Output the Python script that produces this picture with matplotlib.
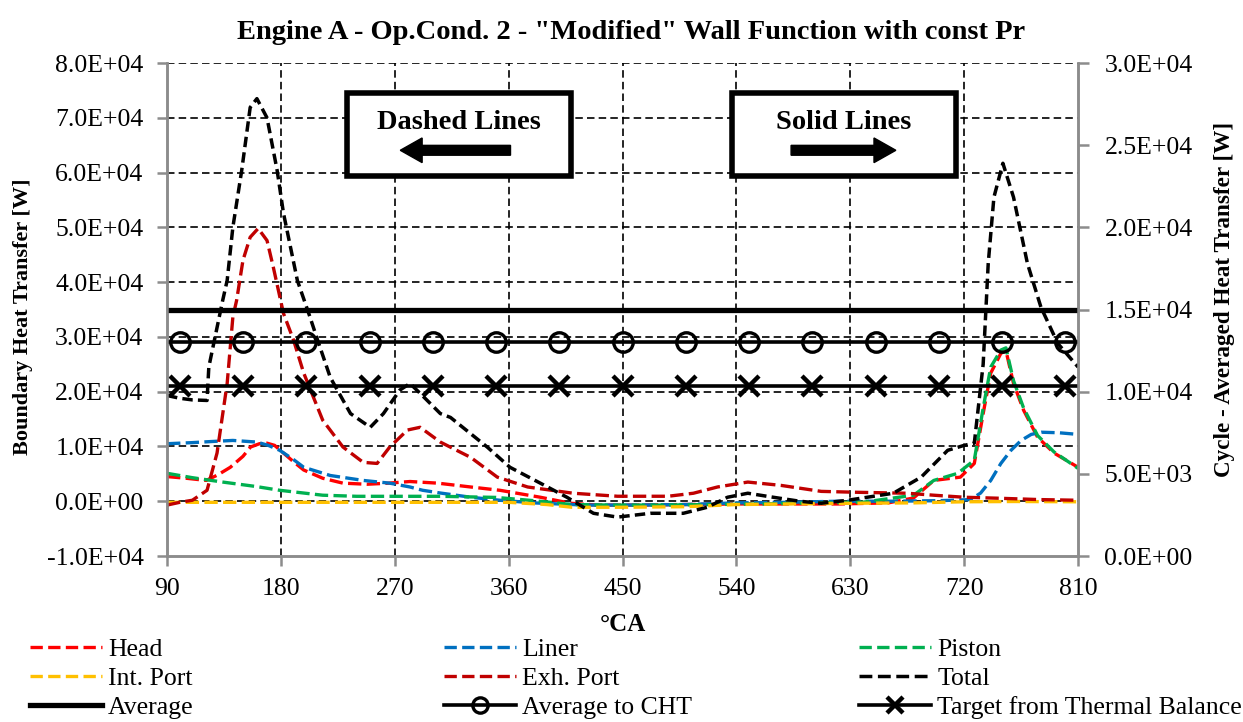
import numpy as np
import matplotlib
matplotlib.use("Agg")
import matplotlib.pyplot as plt
from matplotlib.lines import Line2D
from matplotlib.patches import Rectangle, FancyArrow

plt.rcParams['font.family'] = ['Liberation Serif', 'DejaVu Serif']

# crank angle [deg] / boundary heat transfer [W] (left axis)
head_x = [90, 105, 121, 130, 140, 150, 156, 163, 169, 175, 182, 190, 198, 213, 229, 248, 265, 282,
          304, 330, 353, 385, 409, 430, 460, 500, 540, 580, 620, 660, 680, 696, 717, 728, 735, 741,
          749, 753, 759, 767, 778, 791, 810]
head_y = [4500, 4200, 3800, 4800, 6200, 8200, 9900, 10500, 10600, 10200, 8800, 7200, 5700, 4200,
          3300, 3100, 3300, 3600, 3300, 2600, 2000, 730, -370, -700, -700, -600, -500, -500, -500,
          -300, 600, 3800, 4400, 6900, 16000, 23400, 27000, 27500, 21500, 16600, 11700, 8800, 6200]

liner_x = [90, 110, 125, 142, 161, 170, 179, 190, 198, 219, 245, 266, 282, 292, 306, 330, 353,
           380, 420, 460, 500, 540, 580, 620, 660, 700, 725, 733, 741, 749, 757, 765, 773, 781,
           795, 810]
liner_y = [10500, 10700, 10900, 11100, 10800, 10200, 9300, 7600, 6200, 4700, 3800, 3300, 2600,
           2000, 1500, 730, 180, -300, -700, -700, -600, -300, -200, 0, 0, 100, 300, 1500, 3800,
           6900, 9300, 11100, 12200, 12600, 12500, 12200]

piston_x = [90, 110, 134, 160, 179, 213, 240, 266, 306, 350, 380, 410, 440, 480, 520, 560, 600,
            640, 680, 696, 715, 728, 735, 741, 749, 753, 759, 767, 778, 791, 810]
piston_y = [5100, 4300, 3500, 2700, 2000, 1100, 900, 900, 900, 700, 100, -600, -700, -700, -600,
            -500, -300, -180, 1100, 3800, 5100, 7500, 17000, 24500, 27600, 28000, 22000, 17000,
            12000, 9000, 6000]

intport_x = [90, 130, 180, 240, 300, 360, 390, 410, 450, 500, 540, 580, 630, 680, 720, 760, 810]
intport_y = [-200, -200, -200, -200, -200, -200, -600, -1100, -1100, -1000, -600, -500, -370,
             -300, -100, -50, -100]

exh_x = [90, 100, 110, 121.6, 129.5, 137.5, 142, 145, 150, 155.7, 162, 169, 174, 182, 190, 198,
         213, 229, 245, 256, 266, 280, 290, 306, 330, 351, 375, 411, 446, 486, 506, 525, 549, 575,
         607, 634, 675, 696, 720, 747, 780, 810]
exh_y = [-700, -200, 180, 2000, 8800, 21500, 33600, 36700, 44000, 48200, 49800, 47600, 42700, 34300,
         29400, 23400, 14800, 9900, 7100, 6900, 9900, 13000, 13500, 10800, 8000, 4400, 2600, 1460,
         910, 910, 1460, 2600, 3500, 2900, 1800, 1640, 1460, 1100, 730, 550, 300, 180]

total_x = [90, 100, 110, 121.6, 123, 134, 137.5, 142, 149, 155.7, 161, 169, 177, 182, 193, 203,
           209, 219, 235, 250.6, 261, 274, 282, 290, 306, 314, 343, 361, 385, 406, 427, 446, 472,
           498, 517, 533, 549, 569, 590, 607, 628, 664, 686, 707, 720, 728, 735, 739, 743.5, 750.6,
           759, 770, 780.7, 794, 810]
total_y = [19300, 18800, 18500, 18400, 24500, 36700, 40300, 50000, 60400, 71900, 73500, 70000,
           60400, 52600, 40300, 33600, 29400, 22600, 16000, 13500, 16000, 20300, 21500, 19700,
           16000, 15300, 9900, 6200, 3300, 730, -2200, -2900, -2200, -2200, -1100, 730, 1460,
           730, 0, -370, 180, 1460, 4400, 9300, 10200, 10600, 25000, 43400, 55500, 61700, 55500,
           43400, 35400, 28800, 24500]

# cycle-averaged heat transfer [W] (right axis)
avg_x = [90, 810]
avg_y = [15000, 15000]
cht_x = [90, 100, 150, 200, 250, 300, 350, 400, 450, 500, 550, 600, 650, 700, 750, 800, 810]
cht_y = [13000] * len(cht_x)
target_x = cht_x
target_y = [10350] * len(target_x)

red = '#FF0000'
blue = '#0070C0'
green = '#00B050'
yellow = '#FFC000'
darkred = '#C00000'

fig = plt.figure(figsize=(12.43, 7.22), dpi=100)
ax = fig.add_axes([0.1344, 0.2299, 0.7329, 0.6828])
ax2 = ax.twinx()

ax.set_xlim(90, 810)
ax.set_ylim(-10000, 80000)
ax2.set_ylim(0, 30000)
ax.set_xticks(np.arange(90, 811, 90))
ax.set_yticks(np.arange(-10000, 80001, 10000))
ax2.set_yticks(np.arange(0, 30001, 5000))
ax.yaxis.set_major_formatter(lambda v, p: '{:.1E}'.format(v))
ax2.yaxis.set_major_formatter(lambda v, p: '{:.1E}'.format(v))

# grid
grid_ls = (0, (4.5, 2.5))
for gx in np.arange(180, 721, 90):
    ax.axvline(gx, color='black', lw=1.2, ls=grid_ls, zorder=1)
for gy in np.arange(0, 80001, 10000):
    ax.axhline(gy, color='black', lw=1.2, ls=grid_ls, zorder=1)

dash = (0, (4, 1.6))
lw = 2.4
ax.plot(head_x, head_y, color=red, lw=lw, ls=dash, label='Head', zorder=3)
ax.plot(liner_x, liner_y, color=blue, lw=lw, ls=dash, label='Liner', zorder=3)
ax.plot(piston_x, piston_y, color=green, lw=lw, ls=dash, label='Piston', zorder=3)
ax.plot(intport_x, intport_y, color=yellow, lw=lw, ls=dash, label='Int. Port', zorder=3)
ax.plot(exh_x, exh_y, color=darkred, lw=lw, ls=dash, label='Exh. Port', zorder=3)
ax.plot(total_x, total_y, color='black', lw=2.5, ls=(0, (3, 1.5)), label='Total', zorder=4)

ax2.plot(avg_x, avg_y, color='black', lw=3.8, label='Average')
ax2.plot(cht_x, cht_y, color='black', lw=2.6, marker='o', markersize=14, mfc='none', mew=2.4,
         markevery=slice(1, -1), label='Average to CHT')
ax2.plot(target_x, target_y, color='black', lw=2.6, marker='x', markersize=14, mew=3.2,
         markevery=slice(1, -1), label='Target from Thermal Balance')

# axes styling
gray = '#8C8C8C'
for a in (ax, ax2):
    a.spines['top'].set_visible(False)
    for s in ('left', 'right', 'bottom'):
        a.spines[s].set_color(gray)
        a.spines[s].set_linewidth(1.8)
ax.tick_params(axis='both', colors=gray, width=1.8, length=7, labelsize=18.5, labelcolor='black')
ax2.tick_params(axis='y', colors=gray, width=1.8, length=8, labelsize=18.5, labelcolor='black',
                pad=11)
ax.tick_params(axis='y', pad=10)
ax.tick_params(axis='x', pad=9)

ax.set_xlabel('°CA', fontsize=18, fontweight='bold', labelpad=9)
ax.set_ylabel('Boundary Heat Transfer [W]', fontsize=16, fontweight='bold')
ax.yaxis.set_label_coords(-0.147, 0.485)
ax2.set_ylabel('Cycle - Averaged Heat Transfer [W]', fontsize=16.7, fontweight='bold')
ax2.yaxis.set_label_coords(1.149, 0.521)
ax.set_title('Engine A - Op.Cond. 2 - "Modified" Wall Function with const Pr',
             fontsize=20.5, fontweight='bold', pad=17, x=0.509)

# annotation boxes
for x0, x1, txt, tail, head in [(0.198, 0.443, 'Dashed Lines', 0.377, 0.256),
                                (0.620, 0.866, 'Solid Lines', 0.685, 0.800)]:
    ax2.add_patch(Rectangle((x0, 0.771), x1 - x0, 0.168, transform=ax2.transAxes,
                            facecolor='white', edgecolor='black', lw=4, zorder=10))
    ax2.text((x0 + x1) / 2, 0.880, txt, transform=ax2.transAxes, ha='center', va='center',
             fontsize=20.5, fontweight='bold', zorder=11)
    ax2.add_patch(FancyArrow(tail, 0.823, head - tail, 0, width=0.02, head_width=0.05,
                             head_length=0.024, length_includes_head=True,
                             transform=ax2.transAxes, color='black', zorder=11))

# legend in three columns
handles = ax.get_lines()[-6:] + ax2.get_lines()
h = {l.get_label(): l for l in handles}
cols = [['Head', 'Int. Port', 'Average'],
        ['Liner', 'Exh. Port', 'Average to CHT'],
        ['Piston', 'Total', 'Target from Thermal Balance']]
for i, (col, xpos) in enumerate(zip(cols, [0.024, 0.357, 0.691])):
    hs = []
    for name in col:
        l = h[name]
        hs.append(Line2D([], [], color=l.get_color(), lw=l.get_linewidth(), ls=l.get_linestyle(),
                         marker=l.get_marker(), markersize=11, mfc='none',
                         mew=l.get_markeredgewidth()))
    fig.legend(hs, col, loc='upper left', bbox_to_anchor=(xpos, 0.116), frameon=False,
               fontsize=18.5, handlelength=2.8, handletextpad=0.25, labelspacing=0.23,
               borderaxespad=0, borderpad=0)

fig.savefig('out.png', dpi=100)
